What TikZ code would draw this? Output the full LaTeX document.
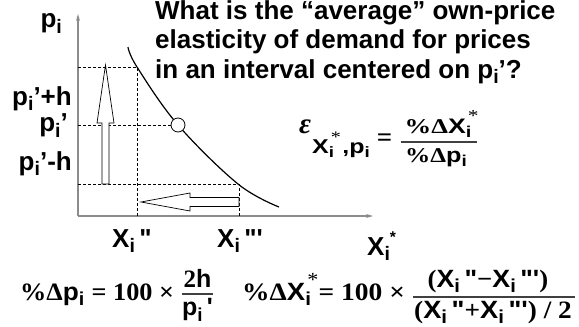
\documentclass[tikz,border=0pt]{standalone}
\usepackage{fontspec}
\usepackage{graphicx}
\setmainfont{Liberation Sans}
\newfontfamily\fs{Liberation Sans}
\newfontfamily\fr{Liberation Serif}
\usetikzlibrary{arrows.meta}
\newcommand\fsz[1]{\fontsize{#1}{#1}\selectfont}
\newcommand\Sb[1]{\raisebox{-0.22em}{\scalebox{0.75}{#1}}}
\newcommand\SbSt[1]{\makebox[0pt][l]{\hspace{0.08em}\raisebox{0.55em}{\scalebox{0.8}{\fr\mdseries *}}}\raisebox{-0.22em}{\scalebox{0.75}{#1}}}
\begin{document}
\begin{tikzpicture}[x=1pt,y=-1pt,
  lbl/.style={inner sep=0pt, font=\fs\bfseries\fsz{26}},
  eqn/.style={inner sep=0pt, font=\fs\bfseries\fsz{25}},
  axisline/.style={draw=black!45, line width=1.3pt},
  guide/.style={draw=black, line width=0.8pt, dash pattern=on 3pt off 2pt},
  hollow/.style={draw=black, fill=white, line width=0.7pt, line join=miter},
  fracbar/.style={draw=black!75, line width=1.2pt}]
\useasboundingbox (0,0) rectangle (579,327);
\fill[white] (0,0) rectangle (579,327);

% axes
\coordinate (O) at (78,216);
\coordinate (ytop) at (78,14);
\coordinate (xend) at (373,216);
\draw[axisline,-{Stealth[length=7pt,width=4pt]}] (O) -- (ytop);
\draw[axisline,-{Stealth[length=7pt,width=4pt]}] (O) -- (xend);

% guide coordinates
\coordinate (a1) at (78,67);
\coordinate (a2) at (137,67);
\coordinate (b1) at (78,125);
\coordinate (c1) at (78,184);
\coordinate (c2) at (239,184);
\coordinate (x1) at (137,216);
\coordinate (x2) at (239,216);

\draw[guide] (a1) -- (a2) -- (x1);
\draw[guide] (c1) -- (c2) -- (x2);

% demand curve
\draw[line width=1.2pt] plot[smooth, tension=0.6] coordinates {(128,47) (137,67) (178,125) (238,184) (279,207)};
\node[circle, draw=black, fill=white, line width=0.8pt, minimum size=14pt, inner sep=0pt] (pt) at (178,125) {};
\draw[guide] (b1) -- (pt.west);

% hollow arrows
\draw[hollow] (102,184) -- (102,123) -- (97,123) -- (105.5,65) -- (114,123) -- (109,123) -- (109,184) -- cycle;
\draw[hollow] (239,197.5) -- (190,197.5) -- (190,193) -- (141,202) -- (190,211) -- (190,206.5) -- (239,206.5) -- cycle;

% axis labels
\node[lbl, anchor=base east] (lp) at (62,27.5) {p\Sb{i}};
\node[lbl, anchor=base east] (lph) at (72,105) {p\Sb{i}’+h};
\node[lbl, anchor=base east] (lp0) at (68,131.5) {p\Sb{i}’};
\node[lbl, anchor=base east] (lmh) at (72,170) {p\Sb{i}’-h};
\node[lbl, anchor=base west] (x2l) at (112,247) {X\Sb{i}\,"};
\node[lbl, anchor=base west] (x3l) at (217,247) {X\Sb{i}\,"'};
\node[lbl, anchor=base west] (xsl) at (367,255) {X\Sb{i}\raisebox{0.5em}{\scalebox{0.6}{*}}};

% title
\node[lbl, anchor=base west] (t1) at (155,19) {What is the “average” own-price};
\node[lbl, anchor=base west] (t2) at (155,48.5) {elasticity of demand for prices};
\node[lbl, anchor=base west] (t3) at (155,78) {in an interval centered on p\Sb{i}’?};

% elasticity formula
\node[inner sep=0pt, anchor=base west] (eps) at (299,133) {\fsz{29}\fr\bfseries\itshape ε};
\node[inner sep=0pt, anchor=base west] (epssub) at (312,153) {\fsz{20}\fs\bfseries\scalebox{1.25}[1]{X\SbSt{i}\,\,,p\Sb{i}}};
\node[inner sep=0pt] (eq1) at (384.5,140) {\fsz{27}\fr\bfseries =};
\coordinate (fb1a) at (401,142);
\coordinate (fb1b) at (477,142);
\draw[fracbar] (fb1a) -- (fb1b);
\node[inner sep=0pt, anchor=base] (num1) at (438,133) {\fsz{21}\scalebox{1.27}[1]{{\fr\bfseries\%Δ}\fs\bfseries X\SbSt{i}}};
\node[inner sep=0pt, anchor=base] (den1) at (436,162) {\fsz{21}\scalebox{1.2}[1]{{\fr\bfseries\%Δ}\fs\bfseries p\Sb{i}}};

% bottom formula 1
\node[eqn, anchor=base west] (f1) at (20,300) {\scalebox{1.05}[1]{{\fr\%Δ}p\Sb{i} {\fr = 100 ×}}};
\coordinate (fb2a) at (182,294);
\coordinate (fb2b) at (213,294);
\draw[fracbar] (fb2a) -- (fb2b);
\node[eqn, anchor=base] (num2) at (197.5,287) {{\fr 2}h};
\node[eqn, anchor=base] (den2) at (197.5,315.5) {p\Sb{i}\,'};

% bottom formula 2
\node[eqn, anchor=base west] (f2) at (242,300) {\scalebox{1.1}[1]{{\fr\%Δ}X\SbSt{i} {\fr = 100 ×}}};
\coordinate (fb3a) at (413,297);
\coordinate (fb3b) at (575,297);
\draw[fracbar] (fb3a) -- (fb3b);
\node[eqn, anchor=base] (num3) at (488,287) {\scalebox{1.07}[1]{{\fr(}X\Sb{i}\,"{\fr −}X\Sb{i}\,"'{\fr)}}};
\node[eqn, anchor=base] (den3) at (493,318) {\scalebox{1.09}[1]{{\fr(}X\Sb{i}\,"{\fr +}X\Sb{i}\,"'{\fr) / 2}}};
\end{tikzpicture}
\end{document}
